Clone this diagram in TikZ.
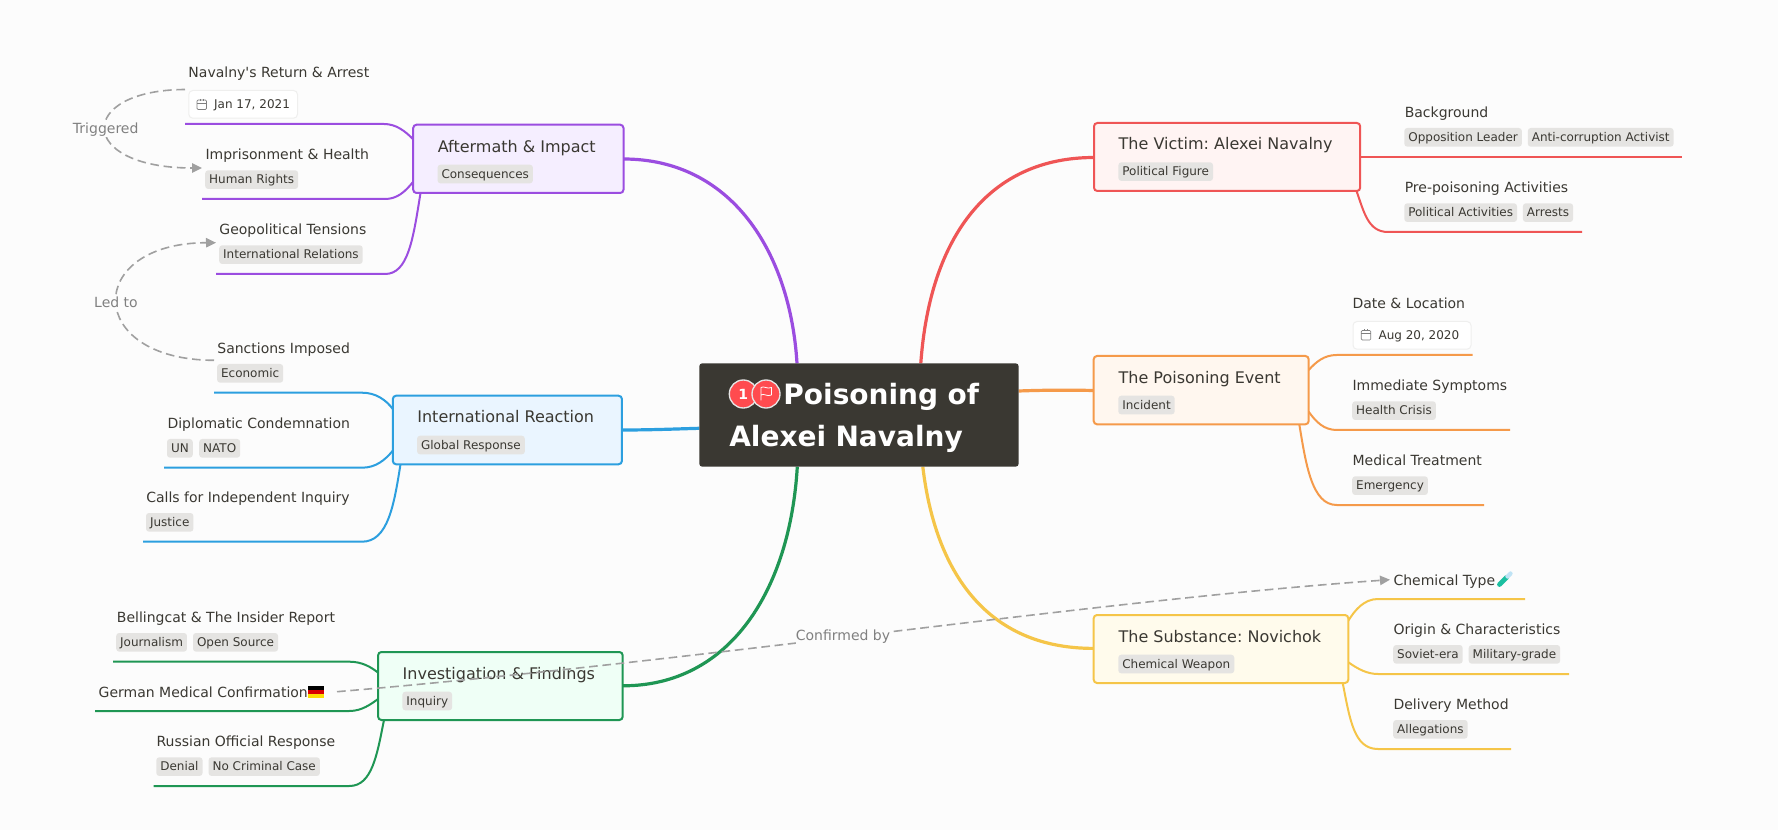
\documentclass[tikz,border=0pt]{standalone}
\usepackage{fontspec}
\setmainfont{DejaVu Sans}[Ligatures=TeXOff]
\usetikzlibrary{calc,arrows.meta,backgrounds}
\definecolor{bgc}{HTML}{FCFCFC}
\definecolor{ink}{HTML}{3A3832}
\definecolor{tagc}{HTML}{E5E4E2}
\definecolor{rel}{HTML}{A0A0A0}
\definecolor{cpurple}{HTML}{9B4DE0}
\definecolor{fpurple}{HTML}{F5EEFF}
\definecolor{cblue}{HTML}{2C9FDF}
\definecolor{fblue}{HTML}{EAF5FF}
\definecolor{cgreen}{HTML}{1F9654}
\definecolor{fgreen}{HTML}{EFFFF6}
\definecolor{cred}{HTML}{EF5555}
\definecolor{fred}{HTML}{FFF4F3}
\definecolor{corange}{HTML}{F59A4A}
\definecolor{forange}{HTML}{FFF7EF}
\definecolor{cyellow}{HTML}{F5C548}
\definecolor{fyellow}{HTML}{FFFBEC}
\definecolor{badge}{HTML}{FF4B4F}
\definecolor{tube}{HTML}{1BBFA0}
\definecolor{tubetop}{HTML}{BFE3F5}
\tikzset{
  topicbox/.style n args={4}{draw=#1,fill=#2,line width=1.5pt,rounded corners=2.5pt,anchor=north west,inner sep=0pt,outer sep=0pt,minimum width=#3*0.75pt,minimum height=#4*0.75pt},
  titletext/.style={anchor=base west,inner sep=0pt,text=ink,font=\fontsize{12}{14}\selectfont},
  childtext/.style={anchor=base west,inner sep=0pt,text=ink,font=\fontsize{10.5}{12}\selectfont},
  tagbox/.style={anchor=north west,fill=tagc,rounded corners=2.25pt,inner xsep=3pt,inner ysep=2.5pt,text height=7.5pt,text depth=1.5pt,outer sep=0pt,text=ink,font=\fontsize{9}{11}\selectfont},
  datebox/.style={anchor=north west,fill=white,draw=tagc!60,line width=0.75pt,rounded corners=3pt,inner sep=0pt,minimum width=#1*0.75pt,minimum height=20.8pt},
  datetext/.style={anchor=base west,inner sep=0pt,text=ink,font=\fontsize{9}{11}\selectfont},
  roottrunk/.style={line width=2.4pt},
  kid/.style={line width=1.5pt},
  relline/.style={draw=rel,line width=1.2pt,dash pattern=on 6.5pt off 3.5pt},
  reltip/.style={-{Triangle[length=7.5pt,width=7pt,fill=rel]}},
  rellabel/.style={fill=bgc,inner xsep=0pt,inner ysep=1pt,text=black!50,font=\fontsize{10.5}{12}\selectfont},
  calstroke/.style={draw=black!50,line width=0.5pt},
}
\newcommand\calicon[2]{%
  \draw[calstroke,rounded corners=0.8pt] (#1,#2) rectangle ++(9.5,9.5);
  \draw[calstroke] (#1,#2+3.2) -- ++(9.5,0);
  \draw[calstroke] (#1+3,#2-1) -- ++(0,2);
  \draw[calstroke] (#1+6.5,#2-1) -- ++(0,2);
}
\frenchspacing
\begin{document}
\begin{tikzpicture}[x=0.75pt,y=-0.75pt]
\useasboundingbox (0,0) rectangle (1778,830);

% central topic
\node[anchor=north west,fill=ink,text=white,rounded corners=2.25pt,inner xsep=22.5pt,inner ysep=0pt,outer sep=0pt,minimum height=77.55pt,text width=194.5pt,align=left,font=\fontsize{21}{31.5}\selectfont\bfseries] (root) at (699.3,363.3) {\rule{0pt}{20.5pt}\hspace*{40.6pt}Poisoning of\\Alexei Navalny};
\node[circle,fill=badge,draw=white!90!black,line width=1pt,minimum size=21pt,inner sep=0pt,text=white,font=\fontsize{10.5}{12}\selectfont\bfseries] (badgeA) at (743.3,394) {1};
\node[circle,fill=badge,draw=white!90!black,line width=1pt,minimum size=21pt,inner sep=0pt] (badgeB) at (766,394) {};
\draw[white,line width=0.6pt,line join=round] (761,400.5) -- (761,387.5) .. controls (764,385.5) and (767,389.5) .. (771.5,387.5) -- (771.5,395) .. controls (767,397) and (764,393) .. (761,395);

% main topics
\node[topicbox={cpurple}{fpurple}{210.3}{68.3}] (aft) at (413.2,124.7) {};
\node[topicbox={cblue}{fblue}{229.1}{68.6}] (int) at (392.8,395.7) {};
\node[topicbox={cgreen}{fgreen}{244.6}{68}] (inv) at (378.1,652) {};
\node[topicbox={cred}{fred}{266.2}{68}] (vic) at (1094,123) {};
\node[topicbox={corange}{forange}{215}{68.3}] (poi) at (1093.7,356) {};
\node[topicbox={cyellow}{fyellow}{254.6}{68}] (sub) at (1093.7,615) {};

\node[titletext] (aftT) at (437.5,152.3) {Aftermath \& Impact};
\node[tagbox] (aftG) at (437.5,164.7) {Consequences};
\node[titletext] (intT) at (417.1,422.7) {International Reaction};
\node[tagbox] (intG) at (417.1,435.7) {Global Response};
\node[titletext] (invT) at (402.4,679) {Investigation \& Findings};
\node[tagbox] (invG) at (402.4,691.7) {Inquiry};
\node[titletext] (vicT) at (1118.4,150) {The Victim: Alexei Navalny};
\node[tagbox] (vicG) at (1118.4,162.3) {Political Figure};
\node[titletext] (poiT) at (1118.3,383.3) {The Poisoning Event};
\node[tagbox] (poiG) at (1118.3,395.7) {Incident};
\node[titletext] (subT) at (1118.3,642) {The Substance: Novichok};
\node[tagbox] (subG) at (1118.3,654.7) {Chemical Weapon};

% purple children
\node[childtext] (a1) at (188.2,77.3) {Navalny's Return \& Arrest};
\node[datebox=108.7] (a1D) at (188.3,90) {};
\calicon{197}{100}
\node[datetext] (a1X) at (213.9,108.3) {Jan 17, 2021};
\node[childtext] (a2) at (205.3,159.3) {Imprisonment \& Health};
\node[tagbox] (a2G) at (205.2,170.3) {Human Rights};
\node[childtext] (a3) at (219.2,234.3) {Geopolitical Tensions};
\node[tagbox] (a3G) at (219.2,245.3) {International Relations};
% blue children
\node[childtext] (b1) at (217.1,353.3) {Sanctions Imposed};
\node[tagbox] (b1G) at (217.1,364) {Economic};
\node[childtext] (b2) at (167.3,428.3) {Diplomatic Condemnation};
\node[tagbox] (b2G) at (167,439) {UN};
\node[tagbox] (b2H) at (199.2,439) {NATO};
\node[childtext] (b3) at (146,502.3) {Calls for Independent Inquiry};
\node[tagbox] (b3G) at (146,513) {Justice};
% green children
\node[childtext] (g1) at (116.7,622.3) {Bellingcat \& The Insider Report};
\node[tagbox] (g1G) at (116.2,633) {Journalism};
\node[tagbox] (g1H) at (193,633) {Open Source};
\node[childtext] (g2) at (98.4,697) {German Medical Confirmation};
\fill[black] (307.8,686) rectangle (324,690.2);
\fill[red!85!black] (307.8,690.2) rectangle (324,694.3);
\fill[yellow!80!orange] (307.8,694.3) rectangle (324,698.4);
\node[childtext] (g3) at (156.3,746.7) {Russian Official Response};
\node[tagbox] (g3G) at (156.3,757.3) {Denial};
\node[tagbox] (g3H) at (208.6,757.3) {No Criminal Case};
% red children
\node[childtext] (r1) at (1404.5,117.3) {Background};
\node[tagbox] (r1G) at (1404.3,128) {Opposition Leader};
\node[tagbox] (r1H) at (1527.8,128) {Anti-corruption Activist};
\node[childtext] (r2) at (1404.5,192.3) {Pre-poisoning Activities};
\node[tagbox] (r2G) at (1404.3,203.3) {Political Activities};
\node[tagbox] (r2H) at (1522.9,203.3) {Arrests};
% orange children
\node[childtext] (o1) at (1352.3,308.3) {Date \& Location};
\node[datebox=118] (o1D) at (1352.5,321) {};
\calicon{1361.3}{330.5}
\node[datetext] (o1X) at (1378.3,339.3) {Aug 20, 2020};
\node[childtext] (o2) at (1352.3,390.3) {Immediate Symptoms};
\node[tagbox] (o2G) at (1352.2,401.3) {Health Crisis};
\node[childtext] (o3) at (1352.3,465.3) {Medical Treatment};
\node[tagbox] (o3G) at (1352.2,476.3) {Emergency};
% yellow children
\node[childtext] (y1) at (1393.3,585) {Chemical Type};
\draw[line width=3.6pt,line cap=round,color=tube] (1499.5,584.5) -- (1506.5,577.5);
\draw[line width=3.2pt,line cap=round,color=tubetop] (1507.5,576.5) -- (1510.5,573.5);
\node[childtext] (y2) at (1393.3,634.3) {Origin \& Characteristics};
\node[tagbox] (y2G) at (1393.2,645) {Soviet-era};
\node[tagbox] (y2H) at (1468.7,645) {Military-grade};
\node[childtext] (y3) at (1393.3,709.3) {Delivery Method};
\node[tagbox] (y3G) at (1393.2,720) {Allegations};

% line ends of the children
\coordinate (a1L) at (185,124);   \coordinate (a1R) at (384,124);
\coordinate (a2L) at (202,199);   \coordinate (a2R) at (385,199);
\coordinate (a3L) at (216,274);   \coordinate (a3R) at (385,274);
\coordinate (b1L) at (214,392.7); \coordinate (b1R) at (362,392.7);
\coordinate (b2L) at (164,467.7); \coordinate (b2R) at (362,467.7);
\coordinate (b3L) at (143,541.7); \coordinate (b3R) at (362,541.7);
\coordinate (g1L) at (113,661.7); \coordinate (g1R) at (349.4,661.7);
\coordinate (g2L) at (95,711);    \coordinate (g2R) at (349.4,711);
\coordinate (g3L) at (153.5,786); \coordinate (g3R) at (349.4,786);
\coordinate (r1R) at (1682,156.7);
\coordinate (r2L) at (1388,232);  \coordinate (r2R) at (1582,232);
\coordinate (o1L) at (1336.7,355);\coordinate (o1R) at (1472.7,355);
\coordinate (o2L) at (1336.7,430);\coordinate (o2R) at (1510,430);
\coordinate (o3L) at (1336.7,505);\coordinate (o3R) at (1484,505);
\coordinate (y1L) at (1378,599);  \coordinate (y1R) at (1525,599);
\coordinate (y2L) at (1378,674);  \coordinate (y2R) at (1569,674);
\coordinate (y3L) at (1378,749);  \coordinate (y3R) at (1511,749);

\begin{scope}[on background layer]
\fill[bgc] (0,0) rectangle (1778,830);
% trunks
\draw[roottrunk,cpurple] ($(root.north west)+(97.7,0)$) .. controls (790,250) and (730,159) .. ($(aft.north east)+(0,34.3)$);
\draw[roottrunk,cred] ($(root.north west)+(221.5,0)$) .. controls (930,235) and (990,157.5) .. ($(vic.north west)+(0,34.5)$);
\draw[roottrunk,corange] ($(root.north east)+(0,27.7)$) .. controls (1045,390) and (1070,390) .. ($(poi.north west)+(0,34.5)$);
\draw[roottrunk,cblue] ($(root.north west)+(0,65)$) .. controls (675,429) and (650,430) .. ($(int.north east)+(0,34.3)$);
\draw[roottrunk,cgreen] ($(root.south west)+(98,0)$) .. controls (790,590) and (730,686) .. ($(inv.north east)+(0,33.8)$);
\draw[roottrunk,cyellow] ($(root.south west)+(223.5,0)$) .. controls (935,570) and (985,648.5) .. ($(sub.north west)+(0,33.4)$);
% purple
\draw[kid,cpurple] (a1L) -- (a1R) .. controls (396,124) and (405,131) .. ($(aft.north west)+(0,14.6)$);
\draw[kid,cpurple] (a2L) -- (a2R) .. controls (397,199) and (405,192) .. ($(aft.north west)+(0,57)$);
\draw[kid,cpurple] (a3L) -- (a3R) .. controls (408,274) and (413,240) .. ($(aft.south west)+(7.3,0)$);
% blue
\draw[kid,cblue] (b1L) -- (b1R) .. controls (376,392.7) and (386,400) .. ($(int.north west)+(0,13.3)$);
\draw[kid,cblue] (b2L) -- (b2R) .. controls (376,467.7) and (385,460) .. ($(int.north west)+(0,55)$);
\draw[kid,cblue] (b3L) -- (b3R) .. controls (388,541.7) and (394,505) .. ($(int.south west)+(7.7,0)$);
% green
\draw[kid,cgreen] (g1L) -- (g1R) .. controls (362,661.7) and (371,667) .. ($(inv.north west)+(0,20.7)$);
\draw[kid,cgreen] (g2L) -- (g2R) .. controls (362,711) and (371,704) .. ($(inv.north west)+(0,47)$);
\draw[kid,cgreen] (g3L) -- (g3R) .. controls (372,786) and (377,755) .. ($(inv.south west)+(5.9,0)$);
% red
\draw[kid,cred] ($(vic.north east)+(0,33.7)$) -- (r1R);
\draw[kid,cred] (r2R) -- (r2L) .. controls (1368,232) and (1364,212) .. ($(vic.south east)+(-3.7,0)$);
% orange
\draw[kid,corange] (o1R) -- (o1L) .. controls (1324,355) and (1316,362) .. ($(poi.north east)+(0,14)$);
\draw[kid,corange] (o2R) -- (o2L) .. controls (1324,430) and (1316,422) .. ($(poi.north east)+(0,55.7)$);
\draw[kid,corange] (o3R) -- (o3L) .. controls (1312,505) and (1306,465) .. ($(poi.south east)+(-9.4,0)$);
% yellow
\draw[kid,cyellow] (y1R) -- (y1L) .. controls (1364,599) and (1355,610) .. ($(sub.north east)+(0,5.7)$);
\draw[kid,cyellow] (y2R) -- (y2L) .. controls (1367,674) and (1358,669) .. ($(sub.north east)+(0,47.3)$);
\draw[kid,cyellow] (y3R) -- (y3L) .. controls (1354,749) and (1350,720) .. ($(sub.south east)+(-5.6,0)$);
\end{scope}

% relationship links
\coordinate (a1E) at (185,89.5);
\coordinate (a2E) at (202,168);
\coordinate (a3E) at (216,242.7);
\coordinate (b1E) at (214,360.3);
\coordinate (g2E) at (337,691.7);
\coordinate (y1E) at (1390,579.7);
\draw[relline,reltip] (a1E) .. controls (76,90) and (76,168) .. (a2E);
\draw[relline,reltip] (b1E) .. controls (84,360) and (84,243) .. (a3E);
\draw[relline,reltip] (g2E) .. controls (700,661) and (1100,600) .. (y1E);
\node[rellabel] (l1) at (105.7,129.3) {Triggered};
\node[rellabel] (l2) at (116,302) {Led to};
\node[rellabel] (l3) at (843,637) {Confirmed by};
\end{tikzpicture}
\end{document}
